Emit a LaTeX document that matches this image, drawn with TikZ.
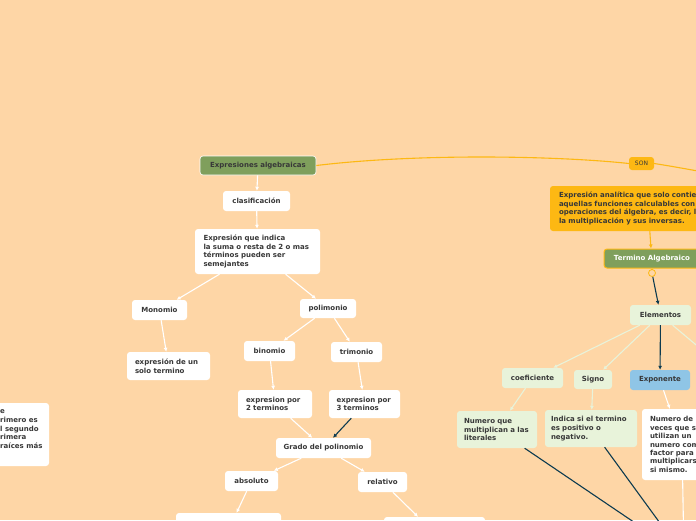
\documentclass[tikz,border=0pt]{standalone}
\usepackage{fontspec}
\setmainfont{DejaVu Sans}
\usetikzlibrary{arrows.meta}
\definecolor{bg}{HTML}{FED6A6}
\definecolor{txt}{HTML}{383838}
\definecolor{grn}{HTML}{7F9F5C}
\definecolor{org}{HTML}{FDB813}
\definecolor{lgrn}{HTML}{E8F3DA}
\definecolor{blu}{HTML}{8FC5E6}
\definecolor{navy}{HTML}{0D3B4F}
\begin{document}
\begin{tikzpicture}[x=1pt,y=-1pt,
  box/.style={rounded corners=3pt, fill=white, draw=none, inner sep=0pt,
    font=\fontsize{7}{8.7}\selectfont\bfseries, text=txt, align=center},
  tbox/.style={box, align=left, inner xsep=9pt},
  gbox/.style={box, fill=grn, draw=white, line width=0.6pt},
  lbox/.style={box, fill=lgrn},
  wl/.style={draw=white, line width=1.1pt, -{Latex[length=4pt,width=4pt]}},
  gl/.style={draw=lgrn, line width=1.1pt, -{Latex[length=4pt,width=4pt]}},
  nl/.style={draw=navy, line width=1.1pt, -{Latex[length=4pt,width=4pt]}},
  ol/.style={draw=org, line width=1.1pt}
]
\useasboundingbox (0,0) rectangle (696,520);
\fill[bg] (0,0) rectangle (696,520);
\clip (0,0) rectangle (696,520);

% left tree
\node[gbox, minimum width=116pt, minimum height=19pt] (A) at (258,165.5) {Expresiones algebraicas};
\node[box, minimum width=67pt, minimum height=20pt] (B) at (256.5,201) {clasificación};
\node[tbox, text width=108pt, inner xsep=8.5pt, minimum height=45pt] (C) at (257.5,251.5) {Expresión que indica\\la suma o resta de 2 o mas\\términos pueden ser\\semejantes};
\node[box, minimum width=55pt, minimum height=20pt] (D) at (159.5,310) {Monomio};
\node[box, minimum width=56pt, minimum height=19pt] (E) at (328,308.5) {polimonio};
\node[tbox, text width=67pt, inner xsep=8pt, minimum height=28pt] (F) at (168.5,366) {expresión de un\\solo termino};
\node[box, minimum width=51pt, minimum height=20pt] (G) at (269.5,351) {binomio};
\node[box, minimum width=51pt, minimum height=20pt] (H) at (356.5,352) {trimonio};
\node[tbox, inner xsep=8pt, text width=58pt, minimum height=28pt] (I) at (275,404) {expresion por\\2 terminos};
\node[tbox, inner xsep=7.5pt, text width=56pt, minimum height=28pt] (J) at (364.5,404) {expresion por\\3 terminos};
\node[box, minimum width=95pt, minimum height=20pt] (K) at (323.5,448) {Grado del polinomio};
\node[box, minimum width=53pt, minimum height=20pt] (L) at (251.5,481) {absoluto};
\node[box, minimum width=49pt, minimum height=20pt] (M) at (382.5,482) {relativo};
\node[box, minimum width=105pt, minimum height=34pt] (N) at (228.5,530) {};
\node[box, minimum width=101pt, minimum height=32pt] (O) at (434.5,533) {};
\node[box, minimum width=69pt, minimum height=63pt] (P) at (14.5,434.5) {};
\node[box, fill=none, align=left, anchor=north west] (Pt) at (0,409.5) {e\\rimero es\\l segundo\\rimera\\raíces más};

\draw[wl] (A) -- (B);
\draw[wl] (B) -- (C);
\draw[wl] (C) -- (D);
\draw[wl] (C) -- (E);
\draw[wl] (D) -- (F);
\draw[wl] (E) -- (G);
\draw[wl] (E) -- (H);
\draw[wl] (G) -- (I);
\draw[wl] (H) -- (J);
\draw[wl] (I) -- (K);
\draw[nl] (J) -- (K);
\draw[wl] (K) -- (L);
\draw[wl] (K) -- (M);
\draw[wl] (L) -- (N);
\draw[wl] (M) -- (O);

% right side
\node[box, fill=org, font=\fontsize{6}{7}\selectfont, minimum width=25pt, minimum height=13pt] (SON) at (641.5,163.5) {SON};
\coordinate (Rend) at (720,175);
\draw[ol] (A.east) .. controls (420,153) and (560,156) .. (SON.west);
\draw[ol] (SON.east) .. controls (670,166) .. (Rend);

\node[tbox, fill=org, text width=212pt, minimum height=45pt] (Q) at (665,208.5) {Expresión analítica que solo contiene\\aquellas funciones calculables con\\operaciones del álgebra, es decir, la\\la multiplicación y sus inversas.};
\node[box, fill=grn, draw=org, line width=1pt, text=white, minimum width=96pt, minimum height=19pt] (R) at (652,258.5) {Termino Algebraico};
\node[circle, draw=org, fill=bg, line width=0.8pt, inner sep=0pt, minimum size=7pt] (c1) at (652,273) {};
\draw[ol] (R.south -| c1) -- (c1);
\draw[ol, -{Latex[length=4pt,width=4pt]}] ([xshift=100pt]Q.south west) -- (R.north -| 651,0);

\node[lbox, minimum width=61pt, minimum height=20pt] (S) at (660.5,315) {Elementos};
\node[lbox, minimum width=61pt, minimum height=20pt] (T) at (532.5,378) {coeficiente};
\node[lbox, minimum width=38pt, minimum height=19pt] (U) at (593,379.5) {Signo};
\node[box, fill=blu, minimum width=60pt, minimum height=20pt] (V) at (660,380) {Exponente};
\node[tbox, fill=lgrn, inner xsep=7pt, text width=66pt, minimum height=37pt] (W) at (497,429.5) {Numero que\\multiplican a las\\literales};
\node[tbox, fill=lgrn, inner xsep=6pt, text width=80pt, minimum height=37pt] (X) at (591,428.5) {Indica si el termino\\es positivo o\\negativo.};
\node[tbox, inner xsep=8pt, text width=64pt, minimum height=71pt, font=\fontsize{7}{8.4}\selectfont\bfseries] (Y) at (682,444.5) {Numero de\\veces que se\\utilizan un\\numero como\\factor para\\multiplicarse\\si mismo.};
\coordinate (Sr) at (720,365);
\coordinate (Z) at (684,556);

\draw[nl] (c1) -- (S);
\draw[gl] (S) -- (T);
\draw[gl] (S) -- (U);
\draw[nl] (S) -- (V);
\draw[draw=lgrn, line width=1.1pt] (S) -- (Sr);
\draw[gl] (T) -- (W);
\draw[gl] (U) -- (X);
\draw[wl] (V) -- (Y);
\draw[draw=navy, line width=1.1pt] (W) -- (Z);
\draw[draw=navy, line width=1.1pt] (X) -- (Z);
\draw[draw=white, line width=1.1pt] (Y) -- (Z);
\end{tikzpicture}
\end{document}
